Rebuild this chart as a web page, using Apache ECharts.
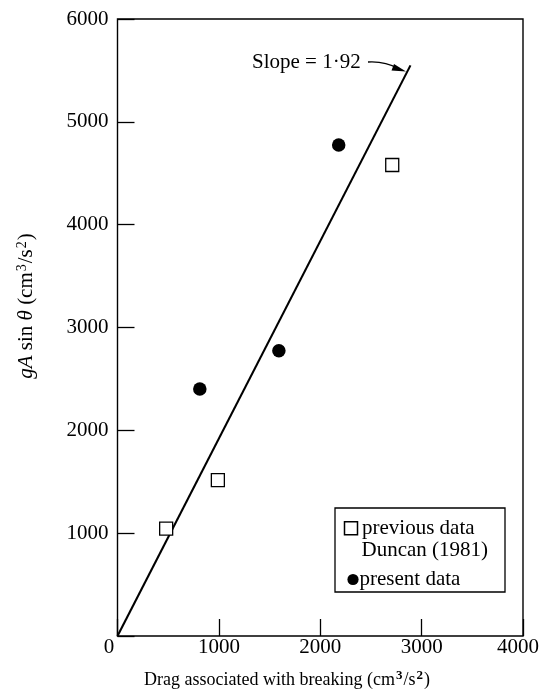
<!DOCTYPE html>
<html>
<head>
<meta charset="utf-8">
<script src="https://cdn.jsdelivr.net/npm/echarts@6/dist/echarts.min.js"></script>
<style>
html,body{margin:0;padding:0;background:#fff;}
#c{width:543px;height:699px;}
</style>
</head>
<body>
<div id="c"></div>
<script>
// ---- data ----
var prevX = [480, 990, 2710];
var prevY = [1045, 1515, 4580];
var presX = [812, 1592, 2182];
var presY = [2402, 2773, 4775];
var fitX = [0, 2890];
var fitY = [0, 5549];
var xTicks = [0, 1000, 2000, 3000, 4000];
var yTicks = [0, 1000, 2000, 3000, 4000, 5000, 6000];
var legendPrev = ['previous data', 'Duncan (1981)'];
var legendPres = 'present data';
var slopeText = 'Slope = 1·92';
var xTitle = 'Drag associated with breaking (cm{s|3}/s{s|2})';

function pairs(xs, ys) { return xs.map(function (x, i) { return [x, ys[i]]; }); }

var FONT = "'Liberation Serif','Times New Roman',serif";
var chart = echarts.init(document.getElementById('c'), null, {renderer: 'canvas'});

chart.setOption({
  animation: false,
  backgroundColor: '#fff',
  textStyle: {fontFamily: FONT, color: '#000'},
  grid: {left: 117.5, right: 20, top: 19, bottom: 63, show: true,
         borderColor: '#000', borderWidth: 1.4, backgroundColor: 'transparent'},
  xAxis: {
    type: 'value', min: xTicks[0], max: xTicks[xTicks.length - 1], interval: 1000,
    axisLine: {show: false},
    axisTick: {show: true, inside: true, length: 17, lineStyle: {color: '#000', width: 1.3}},
    splitLine: {show: false},
    axisLabel: {
      fontFamily: FONT, fontSize: 21, color: '#000', margin: 1,
      formatter: function (v) {
        if (v === 0) return '{a|0}';
        if (v === 4000) return '{b|4000}';
        return String(v);
      },
      rich: {
        a: {fontFamily: FONT, fontSize: 21, color: '#000', padding: [0, 17, 0, 0]},
        b: {fontFamily: FONT, fontSize: 21, color: '#000', padding: [0, 10, 0, 0]}
      }
    }
  },
  yAxis: {
    type: 'value', min: yTicks[0], max: yTicks[yTicks.length - 1], interval: 1000,
    axisLine: {show: false},
    axisTick: {show: true, inside: true, length: 17, lineStyle: {color: '#000', width: 1.3}},
    splitLine: {show: false},
    axisLabel: {fontFamily: FONT, fontSize: 21, color: '#000', margin: 9,
      formatter: function (v) { return v === 0 ? '' : String(v); }}
  },
  series: [
    {
      type: 'line', data: pairs(fitX, fitY), symbol: 'none',
      lineStyle: {color: '#000', width: 2.1}, silent: true, z: 2
    },
    {
      type: 'scatter', name: 'previous', data: pairs(prevX, prevY), symbol: 'rect', symbolSize: 13,
      itemStyle: {color: '#fff', borderColor: '#000', borderWidth: 1.3, opacity: 1}, z: 3
    },
    {
      type: 'scatter', name: 'present', data: pairs(presX, presY), symbol: 'circle', symbolSize: 13.5,
      itemStyle: {color: '#000', opacity: 1}, z: 3
    }
  ],
  graphic: [
    // y axis title
    {
      type: 'text', x: 26, y: 306, rotation: Math.PI / 2,
      style: {
        text: '{i|gA} sin {i|θ} (cm{s|3}/s{s|2})',
        font: '21px ' + FONT, fill: '#000', align: 'center', verticalAlign: 'middle',
        rich: {
          i: {fontStyle: 'italic', fontFamily: FONT, fontSize: 21, fill: '#000'},
          s: {fontFamily: FONT, fontSize: 14, fill: '#000', verticalAlign: 'top', padding: [0, 1, 8, 1]}
        }
      }
    },
    // x axis title
    {
      type: 'text', x: 287, y: 680,
      style: {
        text: xTitle, font: '18px ' + FONT, fill: '#000', align: 'center', verticalAlign: 'middle',
        rich: {s: {fontFamily: FONT, fontSize: 13, fill: '#000', fontWeight: 'bold', padding: [0, 1, 8, 1]}}
      }
    },
    // slope annotation
    {
      type: 'text', x: 252, y: 62,
      style: {text: slopeText, font: '21px ' + FONT, fill: '#000', align: 'left', verticalAlign: 'middle'}
    },
    {
      type: 'bezierCurve',
      shape: {x1: 368, y1: 62, x2: 398, y2: 68.5, cpx1: 385, cpy1: 61},
      style: {stroke: '#000', lineWidth: 1.3, fill: null}
    },
    {
      type: 'polygon',
      shape: {points: [[406, 71.5], [394, 64], [391.5, 70.5]]},
      style: {fill: '#000'}
    },
    // legend box
    {
      type: 'rect', shape: {x: 335, y: 508, width: 170, height: 84},
      style: {fill: '#fff', stroke: '#000', lineWidth: 1.3}, z: 10
    },
    {
      type: 'rect', shape: {x: 344.5, y: 521.8, width: 13, height: 13},
      style: {fill: '#fff', stroke: '#000', lineWidth: 1.5}, z: 11
    },
    {
      type: 'text', x: 362, y: 528, z: 11,
      style: {text: legendPrev[0], font: '21px ' + FONT, fill: '#000', verticalAlign: 'middle'}
    },
    {
      type: 'text', x: 361.5, y: 550, z: 11,
      style: {text: legendPrev[1], font: '21px ' + FONT, fill: '#000', verticalAlign: 'middle'}
    },
    {
      type: 'circle', shape: {cx: 353, cy: 579.5, r: 5.6}, style: {fill: '#000'}, z: 11
    },
    {
      type: 'text', x: 359.5, y: 579, z: 11,
      style: {text: legendPres, font: '21px ' + FONT, fill: '#000', verticalAlign: 'middle'}
    }
  ]
});
</script>
</body>
</html>
